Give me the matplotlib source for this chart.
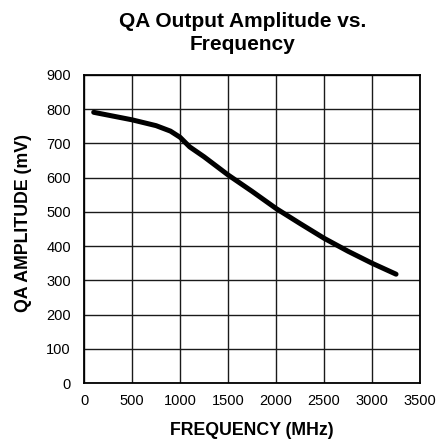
import matplotlib
matplotlib.use('Agg')
import matplotlib.pyplot as plt

freq = [100, 300, 500, 750, 900, 1000, 1100, 1250, 1500, 1750, 2000, 2250, 2500, 2750, 3000, 3250]
amp = [791, 780, 769, 752, 736, 718, 690, 661, 608, 560, 510, 466, 423, 385, 350, 318]

plt.rcParams['font.family'] = ['Liberation Sans', 'DejaVu Sans']

fig = plt.figure(figsize=(4.38, 4.43), dpi=100)
ax = fig.add_axes([0.192, 0.1354, 0.767, 0.6953])
ax.plot(freq, amp, color='black', linewidth=3.6, solid_capstyle='round')

ax.set_xlim(0, 3500)
ax.set_ylim(0, 900)
ax.set_xticks(range(0, 3501, 500))
ax.set_yticks(range(0, 901, 100))
ax.grid(True, color='#1a1a1a', linewidth=1.0)
for s in ax.spines.values():
    s.set_linewidth(1.3)
ax.tick_params(length=0, labelsize=10.5)
ax.tick_params(axis='x', pad=8)
ax.tick_params(axis='y', pad=9.5)

ax.set_xlabel('FREQUENCY (MHz)', fontsize=12.8, fontweight='bold', va='top')
ax.xaxis.set_label_coords(0.5, -0.128)
ax.set_ylabel('QA AMPLITUDE (mV)', fontsize=12.8, fontweight='bold')
ax.yaxis.set_label_coords(-0.155, 0.52)
fig.text(0.5537, 0.973, 'QA Output Amplitude vs.\nFrequency', fontsize=15,
         fontweight='bold', ha='center', va='top', linespacing=1.3)

fig.savefig('out.png', dpi=100)
